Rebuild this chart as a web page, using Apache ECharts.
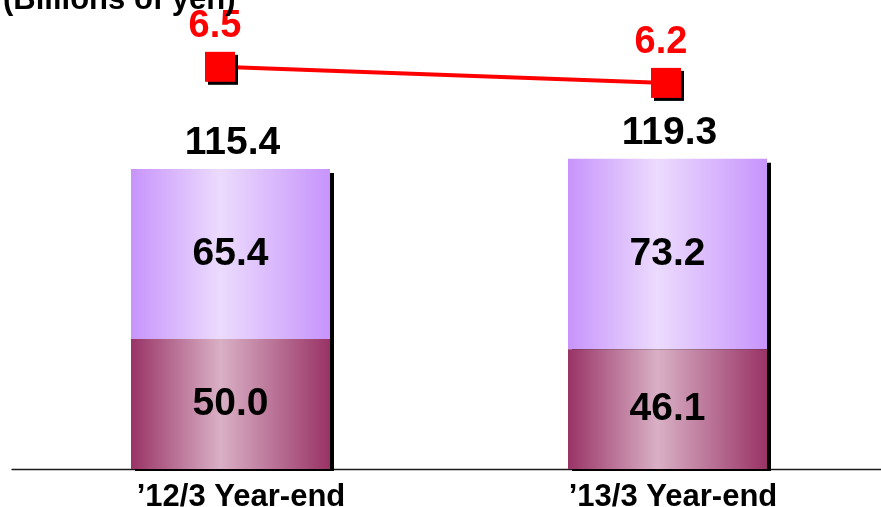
<!DOCTYPE html>
<html>
<head>
<meta charset="utf-8">
<script src="https://cdn.jsdelivr.net/npm/echarts@6/dist/echarts.min.js"></script>
<style>
  html, body { margin: 0; padding: 0; background: #ffffff; }
  #chart { width: 881px; height: 507px; }
</style>
</head>
<body>
<div id="chart"></div>
<script>
// Year-end categories
var categories = ['\u201912/3 Year-end', '\u201913/3 Year-end'];
// Stacked segments (billions of yen)
var lowerValues = [50.0, 46.1];
var upperValues = [65.4, 73.2];
// Totals shown above each stack
var totalValues = [115.4, 119.3];
// Values plotted on the red line
var lineValues = [6.5, 6.2];

var FONT = '"Liberation Sans", Arial, sans-serif';

function barGradient(edge, mid) {
  return new echarts.graphic.LinearGradient(0, 0, 1, 0, [
    { offset: 0, color: edge },
    { offset: 0.45, color: mid },
    { offset: 1, color: edge }
  ]);
}

var catLabelStyle = { fontFamily: FONT, fontWeight: 'bold', fontSize: 31, color: '#000000' };

var chart = echarts.init(document.getElementById('chart'), null, { renderer: 'canvas' });

chart.setOption({
  animation: false,
  backgroundColor: '#ffffff',
  title: {
    text: '(Billions of yen)',
    left: -2,
    top: -20,
    textStyle: { fontFamily: FONT, fontWeight: 'bold', fontSize: 31, color: '#000000' }
  },
  grid: [
    { left: 12, width: 874, top: 40, bottom: 38, containLabel: false, outerBoundsMode: 'none' },
    { left: 220, width: 446, top: 40, bottom: 38, containLabel: false, outerBoundsMode: 'none' }
  ],
  xAxis: [
    {
      type: 'category',
      gridIndex: 0,
      data: categories,
      boundaryGap: true,
      axisLine: { show: true, lineStyle: { color: '#1a1a1a', width: 1.3 } },
      axisTick: { show: false },
      axisLabel: {
        margin: 13,
        fontFamily: FONT,
        fontWeight: 'bold',
        fontSize: 31,
        color: '#000000',
        formatter: function (value, index) { return '{c' + index + '|' + value + '}'; },
        rich: {
          c0: Object.assign({ padding: [0, 0, 0, 21] }, catLabelStyle),
          c1: Object.assign({ padding: [0, 0, 0, 11] }, catLabelStyle)
        }
      }
    },
    {
      type: 'category',
      gridIndex: 1,
      data: categories,
      boundaryGap: false,
      show: false
    }
  ],
  yAxis: [
    { type: 'value', gridIndex: 0, min: 0, max: 165, show: false },
    { type: 'value', gridIndex: 1, min: -1, max: 7, show: false }
  ],
  series: [
    {
      name: 'lower',
      type: 'bar',
      stack: 'total',
      xAxisIndex: 0,
      yAxisIndex: 0,
      barWidth: 199,
      z: 3,
      data: lowerValues,
      itemStyle: {
        color: barGradient('#993366', '#d9b0c5'),
        shadowColor: '#000000',
        shadowBlur: 0,
        shadowOffsetX: 4,
        shadowOffsetY: 2
      },
      label: {
        show: true,
        position: 'inside',
        fontFamily: FONT,
        fontWeight: 'bold',
        fontSize: 39,
        color: '#000000',
        formatter: function (p) { return p.value.toFixed(1); }
      }
    },
    {
      name: 'upper',
      type: 'bar',
      stack: 'total',
      xAxisIndex: 0,
      yAxisIndex: 0,
      barWidth: 199,
      z: 2,
      data: upperValues,
      itemStyle: {
        color: barGradient('#c794fc', '#ecdbfd'),
        shadowColor: '#000000',
        shadowBlur: 0,
        shadowOffsetX: 4,
        shadowOffsetY: 4
      },
      label: {
        show: true,
        position: 'inside',
        fontFamily: FONT,
        fontWeight: 'bold',
        fontSize: 39,
        color: '#000000',
        formatter: function (p) { return p.value.toFixed(1); }
      }
    },
    {
      name: 'total',
      type: 'bar',
      xAxisIndex: 0,
      yAxisIndex: 0,
      barWidth: 199,
      barGap: '-100%',
      z: 1,
      data: totalValues,
      itemStyle: { color: 'rgba(0,0,0,0)' },
      emphasis: { disabled: true },
      label: {
        show: true,
        position: 'top',
        distance: 6,
        offset: [2, 0],
        fontFamily: FONT,
        fontWeight: 'bold',
        fontSize: 39,
        color: '#000000',
        formatter: function (p) { return p.value.toFixed(1); }
      }
    },
    {
      name: 'line',
      type: 'line',
      xAxisIndex: 1,
      yAxisIndex: 1,
      z: 5,
      data: lineValues,
      symbol: 'rect',
      symbolSize: 30,
      lineStyle: { color: '#ff0000', width: 4 },
      itemStyle: {
        color: '#ff0000',
        shadowColor: '#000000',
        shadowBlur: 0,
        shadowOffsetX: 3,
        shadowOffsetY: 3
      },
      label: {
        show: true,
        position: 'top',
        distance: 6,
        offset: [-5, 0],
        fontFamily: FONT,
        fontWeight: 'bold',
        fontSize: 38,
        color: '#ff0000',
        formatter: function (p) { return p.value.toFixed(1); }
      }
    }
  ]
});
</script>
</body>
</html>
